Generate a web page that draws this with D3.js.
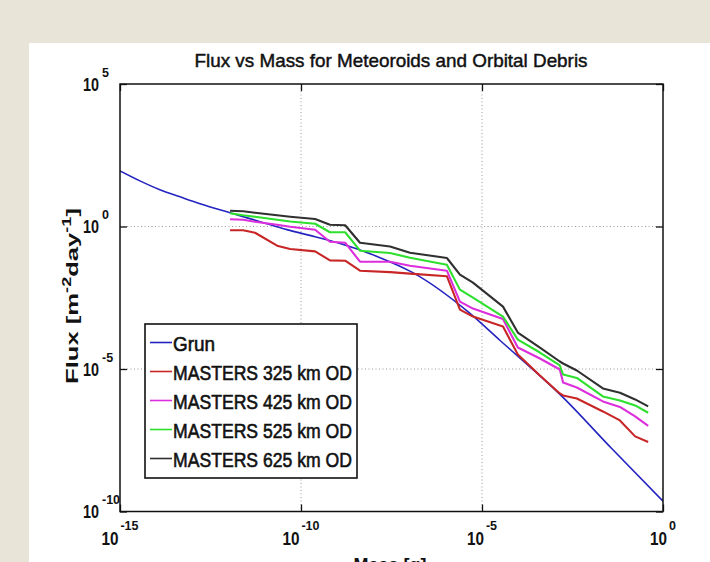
<!DOCTYPE html>
<html><head><meta charset="utf-8">
<script src="https://cdn.jsdelivr.net/npm/d3@7"></script>
<style>
html,body{margin:0;padding:0;background:#e8e4d7;overflow:hidden;}
svg{display:block;}
text{font-family:"Liberation Sans Narrow","Arial Narrow","Liberation Sans",Arial,sans-serif;fill:#111;}
</style></head><body><svg id="c" width="710" height="562"></svg>
<script>
// ---- data (log10 values) ----
const grunMassLog = [-15, -14.45, -13.9, -13.34, -12.79, -11.96, -11.13, -10.39, -9.61, -8.92, -7.9, -6.91, -5.39, -4.5, -2.79, -1.41, 0];
const grunFluxLog = [1.95, 1.60, 1.29, 1.04, 0.80, 0.48, 0.17, -0.11, -0.36, -0.60, -1.05, -1.62, -2.99, -4.0, -5.96, -7.8, -9.64];

const mastersMassLog = [-11.96, -11.60, -11.27, -10.66, -10.30, -9.61, -9.20, -8.78, -8.37, -7.54, -6.99, -5.97, -5.61, -5.25, -4.42, -4.01, -3.40, -2.85, -2.76, -2.38, -1.66, -1.19, -0.77, -0.41];
const flux325Log = [-0.131, -0.131, -0.219, -0.674, -0.790, -0.874, -1.189, -1.200, -1.550, -1.602, -1.655, -1.743, -2.916, -3.161, -3.511, -4.492, -5.228, -5.858, -5.928, -6.033, -6.489, -6.804, -7.364, -7.564];
const flux425Log = [0.254, 0.236, 0.166, 0.061, -0.009, -0.114, -0.534, -0.569, -1.235, -1.235, -1.375, -1.550, -2.636, -2.881, -3.249, -4.247, -4.632, -5.018, -5.473, -5.648, -6.138, -6.331, -6.664, -6.996];
const flux525Log = [0.464, 0.394, 0.342, 0.236, 0.177, 0.096, -0.201, -0.201, -0.849, -0.930, -1.095, -1.340, -2.215, -2.496, -3.161, -3.967, -4.422, -4.877, -5.193, -5.315, -5.963, -6.103, -6.278, -6.534];
const flux625Log = [0.552, 0.534, 0.482, 0.394, 0.342, 0.261, 0.061, 0.044, -0.569, -0.699, -0.919, -1.105, -1.690, -1.970, -2.811, -3.722, -4.247, -4.737, -4.807, -5.053, -5.683, -5.834, -6.068, -6.313];

const seriesNames = ["Grun", "MASTERS 325 km OD", "MASTERS 425 km OD", "MASTERS 525 km OD", "MASTERS 625 km OD"];
const seriesColors = ["#2424c0", "#c82626", "#dc2edc", "#2ee02e", "#303030"];

const xTickExp = [-15, -10, -5, 0];
const yTickExp = [-10, -5, 0, 5];
const xGridExp = [-10, -5];
const yGridExp = [-5, 0];

const titleText = "Flux vs Mass for Meteoroids and Orbital Debris";
const xLabelText = "Mass [g]";

// ---- layout ----
const svg = d3.select("#c");
const L = 120, R = 663, T = 84, B = 511.5;
svg.append("rect").attr("x", 29).attr("y", 43).attr("width", 710 - 29).attr("height", 562 - 43).attr("fill", "#ffffff");

const x = d3.scaleLog().domain([1e-15, 1]).range([L, R]);
const y = d3.scaleLog().domain([1e-10, 1e5]).range([B, T]);
const p10 = e => Math.pow(10, e);

// grid
const gGrid = svg.append("g").attr("stroke", "#9a9a9a").attr("stroke-width", 1).attr("stroke-dasharray", "1,2.5");
gGrid.selectAll("line.vx").data(xGridExp).join("line")
  .attr("x1", d => x(p10(d))).attr("x2", d => x(p10(d))).attr("y1", T).attr("y2", B);
gGrid.selectAll("line.hy").data(yGridExp).join("line")
  .attr("y1", d => y(p10(d))).attr("y2", d => y(p10(d))).attr("x1", L).attr("x2", R);

// ticks via d3 axes (inward)
const tk = 7;
function styleAxis(g){ g.select(".domain").remove(); g.selectAll(".tick line").attr("stroke", "#111").attr("stroke-width", 1.3); g.selectAll(".tick text").remove(); }
svg.append("g").attr("transform", `translate(0,${B})`).call(d3.axisBottom(x).tickValues(xTickExp.map(p10)).tickSize(-tk).tickFormat("")).call(styleAxis);
svg.append("g").attr("transform", `translate(0,${T})`).call(d3.axisTop(x).tickValues(xTickExp.map(p10)).tickSize(-tk).tickFormat("")).call(styleAxis);
svg.append("g").attr("transform", `translate(${L},0)`).call(d3.axisLeft(y).tickValues(yTickExp.map(p10)).tickSize(-tk).tickFormat("")).call(styleAxis);
svg.append("g").attr("transform", `translate(${R},0)`).call(d3.axisRight(y).tickValues(yTickExp.map(p10)).tickSize(-tk).tickFormat("")).call(styleAxis);

// lines
svg.append("clipPath").attr("id", "clip").append("rect").attr("x", L).attr("y", T).attr("width", R - L).attr("height", B - T);
const line = d3.line().x(d => x(p10(d[0]))).y(d => y(p10(d[1])));
const gl = svg.append("g").attr("clip-path", "url(#clip)").attr("fill", "none").attr("stroke-linejoin", "round");
gl.append("path").attr("d", line.curve(d3.curveMonotoneX)(grunMassLog.map((m, i) => [m, grunFluxLog[i]])))
  .attr("stroke", seriesColors[0]).attr("stroke-width", 1.6);
line.curve(d3.curveLinear);
[flux325Log, flux425Log, flux525Log, flux625Log].forEach((arr, k) => {
  gl.append("path").attr("d", line(mastersMassLog.map((m, i) => [m, arr[i]])))
    .attr("stroke", seriesColors[k + 1]).attr("stroke-width", 2.1);
});

// frame
svg.append("rect").attr("x", L).attr("y", T).attr("width", R - L).attr("height", B - T)
  .attr("fill", "none").attr("stroke", "#111").attr("stroke-width", 1.5);

// tick labels
const fsBase = 18, fsExp = 12.5;
yTickExp.forEach(e => {
  const yy = y(p10(e));
  svg.append("text").attr("x", 83).attr("y", yy + 6.5)
    .attr("font-size", fsBase).attr("font-weight", "bold").attr("textLength", 16).attr("lengthAdjust", "spacingAndGlyphs").text("10");
  svg.append("text").attr("x", 102).attr("y", yy - 7.5).attr("font-size", fsExp).attr("font-weight", "bold").text(String(e));
});
xTickExp.forEach(e => {
  const xx = x(p10(e));
  const g = svg.append("g");
  const t1 = g.append("text").attr("y", 545).attr("font-size", fsBase).attr("font-weight", "bold").attr("textLength", 17).attr("lengthAdjust", "spacingAndGlyphs").text("10");
  const t2 = g.append("text").attr("y", 530).attr("font-size", fsExp).attr("font-weight", "bold").text(String(e));
  const w2 = t2.node().getComputedTextLength();
  const total = 17 + 2 + w2;
  const x0 = xx - total / 2;
  t1.attr("x", x0);
  t2.attr("x", x0 + 19);
});

// title
svg.append("text").attr("x", 391).attr("y", 67).attr("text-anchor", "middle").attr("font-size", 18.5)
  .attr("stroke", "#111").attr("stroke-width", 0.45)
  .attr("textLength", 393).attr("lengthAdjust", "spacingAndGlyphs").text(titleText);

// x label (mostly cut off at the bottom, as in the reference)
svg.append("text").attr("x", 390).attr("y", 571).attr("text-anchor", "middle").attr("font-size", 18).attr("font-weight", "bold").text(xLabelText);

// y label
const yl = svg.append("text").attr("text-anchor", "middle").attr("font-size", 17).attr("font-weight", "bold");
yl.append("tspan").text("Flux [m");
yl.append("tspan").attr("dy", -7).attr("font-size", 12).text("-2");
yl.append("tspan").attr("dy", 7).text("day");
yl.append("tspan").attr("dy", -7).attr("font-size", 12).text("-1");
yl.append("tspan").attr("dy", 7).text("]");
const ylw = yl.node().getComputedTextLength();
yl.attr("transform", `translate(78,296) rotate(-90) scale(${176 / ylw},1)`);

// legend
const lg = svg.append("g");
lg.append("rect").attr("x", 145).attr("y", 324).attr("width", 212).attr("height", 154)
  .attr("fill", "#fff").attr("stroke", "#111").attr("stroke-width", 1.6);
const legBase = [351, 380, 409, 438, 467];
const legW = [42, 179, 179, 179, 179];
seriesNames.forEach((n, i) => {
  lg.append("line").attr("x1", 150).attr("x2", 172).attr("y1", legBase[i] - 8.5).attr("y2", legBase[i] - 8.5)
    .attr("stroke", seriesColors[i]).attr("stroke-width", 1.6);
  lg.append("text").attr("x", 173).attr("y", legBase[i]).attr("font-size", 20)
    .attr("stroke", "#111").attr("stroke-width", 0.6)
    .attr("textLength", legW[i]).attr("lengthAdjust", "spacingAndGlyphs").text(n);
});
</script></body></html>
